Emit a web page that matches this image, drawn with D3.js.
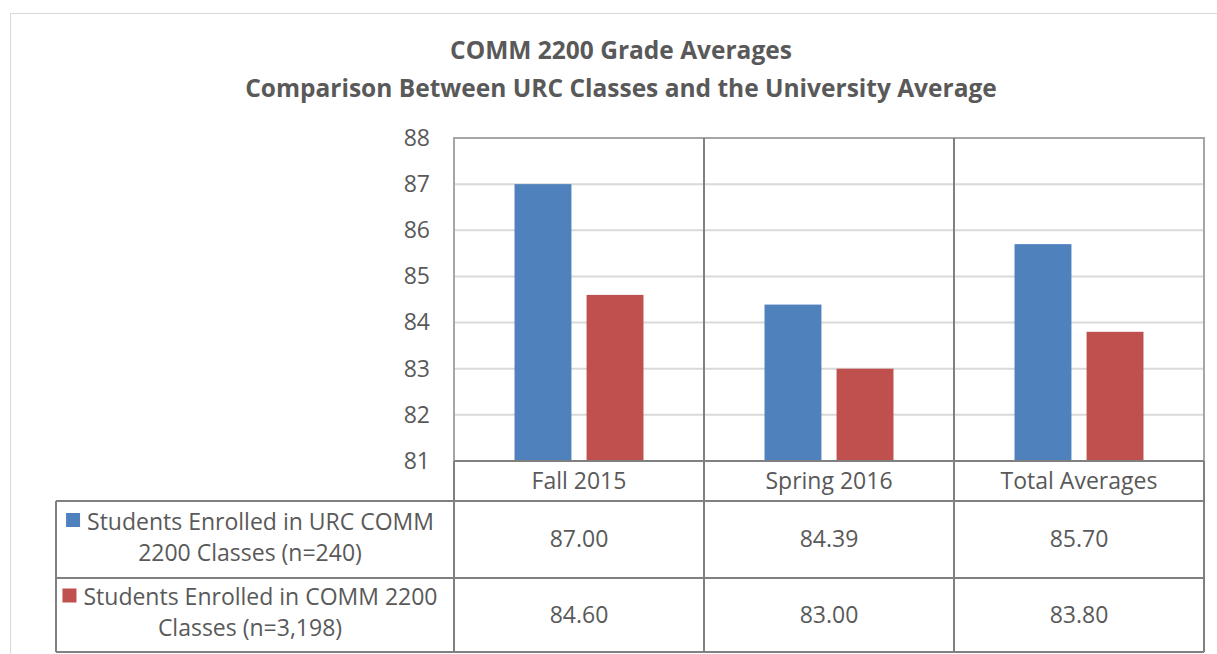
<!DOCTYPE html>
<html>
<head>
<meta charset="utf-8">
<script src="https://cdn.jsdelivr.net/npm/d3@7"></script>
<style>
body { margin: 0; background: #fff; }
text { font-family: "Open Sans", sans-serif; fill: #595959; }
</style>
</head>
<body>
<svg id="drawarea"></svg>
<script>
var categories = ["Fall 2015", "Spring 2016", "Total Averages"];
var seriesNames = ["Students Enrolled in URC COMM 2200 Classes (n=240)",
                   "Students Enrolled in COMM 2200 Classes (n=3,198)"];
var legendLines = [["Students Enrolled in URC COMM", "2200 Classes (n=240)"],
                   ["Students Enrolled in COMM 2200", "Classes (n=3,198)"]];
var urcValues = [87.00, 84.39, 85.70];
var univValues = [84.60, 83.00, 83.80];
var yTicks = [81, 82, 83, 84, 85, 86, 87, 88];
var titleLines = ["COMM 2200 Grade Averages",
                  "Comparison Between URC Classes and the University Average"];

var colors = ["#4f81bd", "#c0504d"];
var series = [urcValues, univValues];

var W = 1217, H = 654;
var fs = 23;
var svg = d3.select("#drawarea").attr("width", W).attr("height", H);

/* outer chart border */
svg.append("rect").attr("x", 10.5).attr("y", 13.5).attr("width", 1220).attr("height", 700)
    .attr("fill", "none").attr("stroke", "#d9d9d9").attr("stroke-width", 1);

/* title */
svg.selectAll(".title").data(titleLines).enter().append("text")
    .attr("class", "title")
    .attr("x", 621)
    .attr("y", function(d, i){ return 59 + i * 38; })
    .attr("text-anchor", "middle")
    .attr("font-size", 24.5)
    .attr("font-weight", "bold")
    .text(function(d){ return d; });

var pLeft = 454, pRight = 1204, pTop = 138, pBottom = 461;

var y = d3.scaleLinear().domain([81, 88]).range([pBottom, pTop]);
var x0 = d3.scaleBand().domain(categories).range([pLeft, pRight]);
var x1 = d3.scaleBand().domain([0, 1]).range([0, x0.bandwidth()])
    .paddingInner(0.21).paddingOuter(0.84);

/* gridlines */
svg.append("g").selectAll("line").data(yTicks).enter().append("line")
    .attr("x1", pLeft).attr("x2", pRight)
    .attr("y1", function(d){ return y(d); }).attr("y2", function(d){ return y(d); })
    .attr("stroke", "#d9d9d9").attr("stroke-width", 2);

/* y axis labels */
var yAxis = d3.axisLeft(y).tickValues(yTicks).tickFormat(d3.format("d")).tickSize(0).tickPadding(24);
var gy = svg.append("g").attr("transform", "translate(" + pLeft + ",0)").call(yAxis);
gy.select(".domain").remove();
gy.selectAll("text").attr("font-size", fs).style("font-family", "'Open Sans', sans-serif").attr("fill", "#595959");

/* bars */
categories.forEach(function(c, ci){
    series.forEach(function(s, si){
        svg.append("rect")
            .attr("x", x0(c) + x1(si))
            .attr("y", y(s[ci]))
            .attr("width", x1.bandwidth())
            .attr("height", pBottom - y(s[ci]))
            .attr("fill", colors[si]);
    });
});

/* plot frame */
svg.append("path")
    .attr("d", "M" + pLeft + "," + pBottom + "V" + pTop + "H" + pRight + "V" + pBottom)
    .attr("fill", "none").attr("stroke", "#a6a6a6").attr("stroke-width", 2);

/* data table */
var tableLeft = 56, rowTops = [461, 501, 578, 652];
var lineColor = "#808080";

/* category dividers running through plot and table */
categories.forEach(function(c, i){
    if (i > 0) {
        svg.append("line").attr("x1", x0(c)).attr("x2", x0(c))
            .attr("y1", pTop).attr("y2", rowTops[3])
            .attr("stroke", lineColor).attr("stroke-width", 2);
    }
});
svg.append("line").attr("x1", pLeft).attr("x2", pLeft).attr("y1", pBottom).attr("y2", rowTops[3])
    .attr("stroke", lineColor).attr("stroke-width", 2);
svg.append("line").attr("x1", pRight).attr("x2", pRight).attr("y1", pBottom).attr("y2", rowTops[3])
    .attr("stroke", lineColor).attr("stroke-width", 2);
svg.append("line").attr("x1", tableLeft).attr("x2", tableLeft).attr("y1", rowTops[1]).attr("y2", rowTops[3])
    .attr("stroke", lineColor).attr("stroke-width", 2);
rowTops.forEach(function(r, i){
    svg.append("line").attr("x1", i == 0 ? pLeft : tableLeft).attr("x2", pRight)
        .attr("y1", r).attr("y2", r)
        .attr("stroke", lineColor).attr("stroke-width", 2);
});

/* category labels */
svg.selectAll(".cat").data(categories).enter().append("text")
    .attr("class", "cat")
    .attr("x", function(d){ return x0(d) + x0.bandwidth() / 2; })
    .attr("y", 489)
    .attr("text-anchor", "middle")
    .attr("font-size", fs)
    .text(function(d){ return d; });

/* values + legend cells */
var legendCx = 250;
series.forEach(function(s, si){
    var rowMid = (rowTops[si + 1] + rowTops[si + 2]) / 2;
    svg.selectAll(".val" + si).data(s).enter().append("text")
        .attr("x", function(d, i){ return x0(categories[i]) + x0.bandwidth() / 2; })
        .attr("y", rowMid + 7.5)
        .attr("text-anchor", "middle")
        .attr("font-size", fs)
        .text(function(d){ return d3.format(".2f")(d); });

    var first = svg.append("text")
        .attr("y", rowMid - 10)
        .attr("font-size", fs)
        .text(legendLines[si][0]);
    var w = first.node().getComputedTextLength();
    var startX = legendCx - (w + 21) / 2;
    first.attr("x", startX + 21);
    svg.append("rect").attr("x", startX).attr("y", rowMid - 26.5).attr("width", 14).attr("height", 14)
        .attr("fill", colors[si]);
    svg.append("text")
        .attr("x", legendCx)
        .attr("y", rowMid + 21)
        .attr("text-anchor", "middle")
        .attr("font-size", fs)
        .text(legendLines[si][1]);
});
</script>
</body>
</html>
